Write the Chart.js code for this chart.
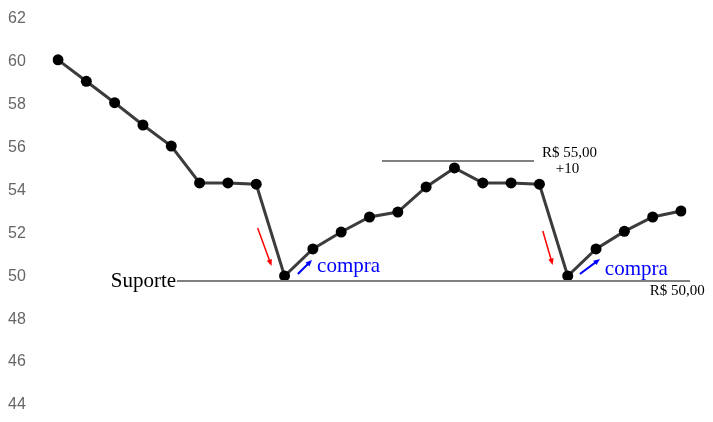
<!DOCTYPE html>
<html>
<head>
<meta charset="utf-8">
<script src="https://cdn.jsdelivr.net/npm/chart.js@4.4.0/dist/chart.umd.min.js"></script>
<style>
  html, body { margin: 0; padding: 0; background: #fff; }
  #wrap { width: 713px; height: 422px; }
</style>
</head>
<body>
<div id="wrap"><canvas id="priceChart"></canvas></div>
<script>
// dias do periodo (eixo x sem rotulos)
const dias = ["1","2","3","4","5","6","7","8","9","10","11","12","13","14","15","16","17","18","19","20","21","22","23"];
// preco de fechamento
const precos = [60, 59, 58, 56.96, 55.98, 54.26, 54.26, 54.2, 49.92, 51.18, 51.97, 52.67, 52.9,
                54.07, 54.96, 54.26, 54.26, 54.2, 49.92, 51.18, 52, 52.67, 52.95];
const yTicks = [44, 46, 48, 50, 52, 54, 56, 58, 60, 62];
const suporte = 49.69;
const resistencia = 55.28;

// annotations, in (index, value) units
function drawNotes(chart) {
    const ctx = chart.ctx;
    const x = chart.scales.x, y = chart.scales.y;
    const px = i => x.getPixelForValue(i);
    const py = v => y.getPixelForValue(v);

    ctx.save();
    // horizontal lines
    ctx.strokeStyle = "#808080";
    ctx.lineWidth = 2;
    ctx.beginPath();
    ctx.moveTo(px(4.2), py(suporte));
    ctx.lineTo(px(22.32), py(suporte));
    ctx.moveTo(px(11.44), py(resistencia));
    ctx.lineTo(px(16.81), py(resistencia));
    ctx.stroke();

    function arrow(x1, y1, x2, y2, color, w) {
        const ax = px(x1), ay = py(y1), bx = px(x2), by = py(y2);
        const ang = Math.atan2(by - ay, bx - ax);
        ctx.strokeStyle = color;
        ctx.fillStyle = color;
        ctx.lineWidth = w;
        ctx.beginPath();
        ctx.moveTo(ax, ay);
        ctx.lineTo(bx - 4 * Math.cos(ang), by - 4 * Math.sin(ang));
        ctx.stroke();
        ctx.beginPath();
        ctx.moveTo(bx, by);
        ctx.lineTo(bx - 7 * Math.cos(ang - 0.4), by - 7 * Math.sin(ang - 0.4));
        ctx.lineTo(bx - 7 * Math.cos(ang + 0.4), by - 7 * Math.sin(ang + 0.4));
        ctx.closePath();
        ctx.fill();
    }
    arrow(7.05, 52.16, 7.54, 50.39, "#ff0000", 1.5);
    arrow(17.12, 52.02, 17.47, 50.43, "#ff0000", 1.5);
    arrow(8.47, 50.01, 8.97, 50.67, "#0000ff", 2);
    arrow(18.43, 50.01, 19.14, 50.71, "#0000ff", 2);

    ctx.textBaseline = "alphabetic";
    ctx.fillStyle = "#000";
    ctx.font = "21px 'Liberation Serif', 'Times New Roman', serif";
    ctx.textAlign = "right";
    ctx.fillText("Suporte", px(4.17), py(49.41));
    ctx.textAlign = "left";
    ctx.fillStyle = "#0000ff";
    ctx.fillText("compra", px(9.15), py(50.11));
    ctx.fillText("compra", px(19.31), py(49.97));
    ctx.fillStyle = "#000";
    ctx.font = "15px 'Liberation Serif', 'Times New Roman', serif";
    ctx.fillText("R$ 55,00", px(17.09), py(55.47));
    ctx.fillText("+10", px(17.58), py(54.72));
    ctx.fillText("R$ 50,00", px(20.9), py(49.03));
    ctx.restore();
}

new Chart(document.getElementById("priceChart"), {
    type: 'line',
    data: {
        labels: dias,
        datasets: [{
            data: precos,
            borderColor: "#3c3c3c",
            borderWidth: 3,
            pointBackgroundColor: "#000",
            pointBorderColor: "#000",
            pointRadius: 5.5,
            pointBorderWidth: 0,
            tension: 0,
            fill: false
        }]
    },
    options: {
        responsive: true,
        maintainAspectRatio: false,
        animation: false,
        layout: { autoPadding: false, padding: { left: 8, right: 32, top: 0, bottom: 0 } },
        plugins: {
            legend: { display: false },
            tooltip: { enabled: false }
        },
        scales: {
            x: {
                display: false,
                offset: false
            },
            y: {
                min: 43.11,
                max: 62.79,
                grid: { display: false },
                border: { display: false },
                afterBuildTicks: axis => { axis.ticks = yTicks.map(v => ({ value: v })); },
                afterFit: axis => {
                    axis.width = 50;
                    axis.paddingTop = 0;
                    axis.paddingBottom = 0;
                },
                ticks: {
                    crossAlign: 'far',
                    labelOffset: 2,
                    color: "#666",
                    font: { family: "'Liberation Sans', Arial, sans-serif", size: 16 }
                }
            }
        }
    },
    plugins: [{ id: 'notes', afterDraw: drawNotes }]
});
</script>
</body>
</html>
